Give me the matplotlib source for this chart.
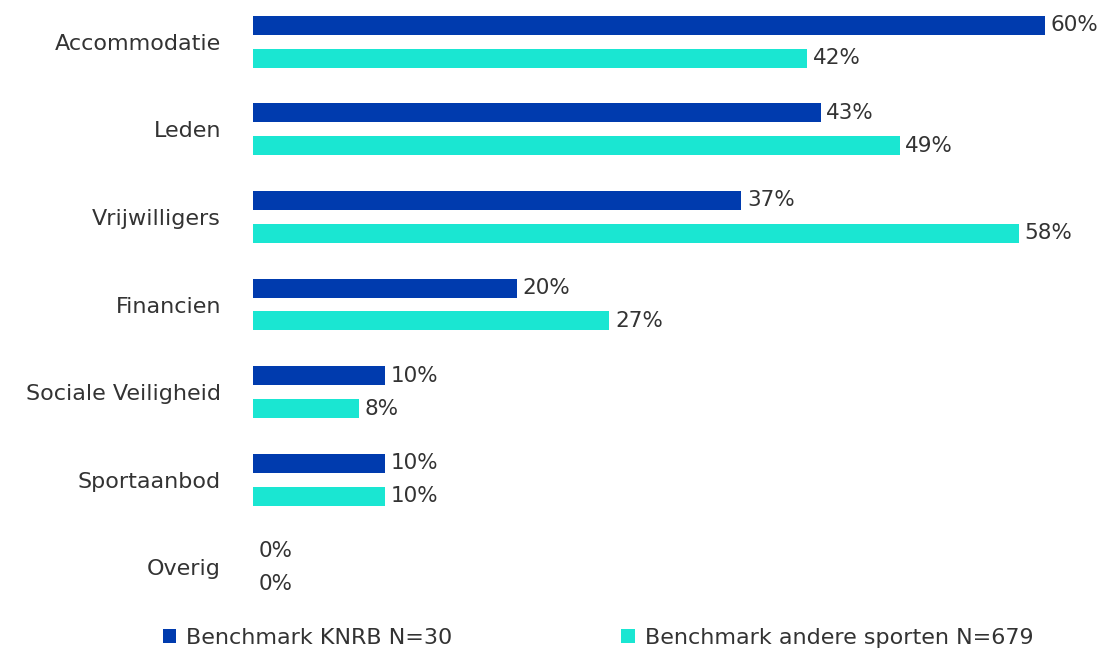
import matplotlib.pyplot as plt
import numpy as np

categorieen = ['Accommodatie', 'Leden', 'Vrijwilligers', 'Financien',
               'Sociale Veiligheid', 'Sportaanbod', 'Overig']
knrb = [60, 43, 37, 20, 10, 10, 0]
andere = [42, 49, 58, 27, 8, 10, 0]
reeksen = ['Benchmark KNRB N=30', 'Benchmark andere sporten N=679']

plt.rcParams['font.family'] = ['DejaVu Sans']

fig = plt.figure(figsize=(11.06, 6.54), dpi=100)
ax = fig.add_axes([253 / 1106, 43 / 654, 792 / 1106, 613 / 654])

y = np.arange(len(categorieen))
off = 0.188
h = 0.217
b1 = ax.barh(y - off, knrb, height=h, color='#003BAE', label=reeksen[0])
b2 = ax.barh(y + off, andere, height=h, color='#1AE6D2', label=reeksen[1])

for bars, vals in [(b1, knrb), (b2, andere)]:
    for bar, v in zip(bars, vals):
        ax.annotate(f'{v}%', (v, bar.get_y() + bar.get_height() / 2),
                    xytext=(4, 0), textcoords='offset points',
                    va='center', ha='left', fontsize=15.5, color='#333333',
                    annotation_clip=False)

ax.set_xlim(0, 60)
ax.set_ylim(len(categorieen) - 0.5, -0.5)
ax.set_yticks(y)
ax.set_yticklabels(categorieen, fontsize=16, color='#333333')
ax.tick_params(axis='y', length=0, pad=23)
ax.set_xticks([])
for s in ax.spines.values():
    s.set_visible(False)

fig.legend(handles=[b1, b2], labels=reeksen, loc='center left',
           bbox_to_anchor=(163 / 1106, 1 - 638 / 654), ncol=2, frameon=False,
           fontsize=16, handlelength=0.6, handleheight=0.6, handletextpad=0.45,
           columnspacing=7.6, borderaxespad=0, borderpad=0,
           labelcolor='#333333')

fig.savefig('out.png', dpi=100)
